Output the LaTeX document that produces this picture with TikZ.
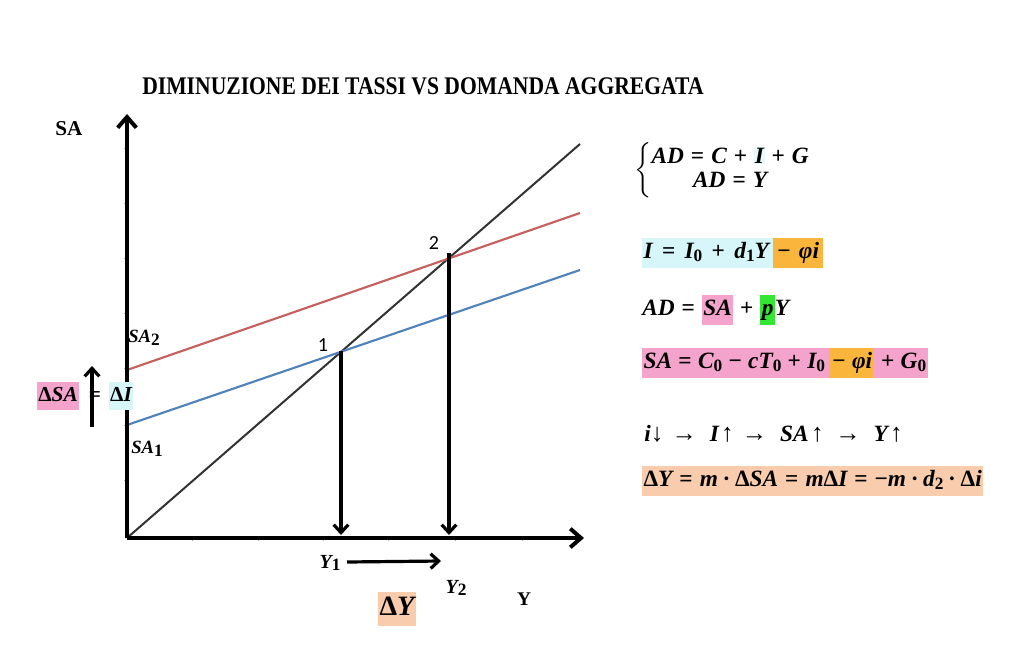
\documentclass[tikz,border=0pt]{standalone}
\usepackage{fontspec}
\usepackage{amsmath}
\usepackage{graphicx}
\setmainfont{Liberation Serif}
\newfontfamily\numfont{Carlito}
\usetikzlibrary{arrows.meta}
\definecolor{hlcyan}{RGB}{214,246,250}
\definecolor{hlorange}{RGB}{250,182,60}
\definecolor{hlpink}{RGB}{244,164,204}
\definecolor{hlgreen}{RGB}{50,230,50}
\definecolor{hlpeach}{RGB}{248,204,172}
\definecolor{redline}{RGB}{200,95,95}
\definecolor{blueline}{RGB}{80,130,190}
\definecolor{diagline}{RGB}{50,50,50}
\newcommand{\hl}[2]{{\setlength{\fboxsep}{1pt}\colorbox{#1}{\strut #2}}}
\newcommand{\lo}[1]{\raisebox{-0.3ex}{\upshape\fontsize{13}{13}\selectfont #1}}
\newcommand{\rel}[2][0.3em]{\hspace{#1}{\upshape #2}\hspace{#1}}
\newcommand{\dt}{\hspace{0.2em}{\upshape ·}\hspace{0.2em}}
\newcommand{\Dl}{{\upshape Δ}}
\newcommand{\arr}[1]{{\upshape\mdseries\fontsize{19}{20}\selectfont #1}}
\tikzset{
  axis/.style={line width=3pt,-{Straight Barb[length=8pt,width=14pt]}},
  droparrow/.style={line width=2.4pt,-{Straight Barb[length=6pt,width=11pt]}},
  tick/.style={gray!60,line width=0.6pt},
  eq/.style={font=\fontsize{17.5}{20}\selectfont\bfseries\itshape,inner sep=0pt,anchor=west},
  lab/.style={font=\fontsize{16}{19}\selectfont\bfseries\itshape,inner sep=0pt},
  slab/.style={font=\fontsize{14}{17}\selectfont\bfseries\itshape,inner sep=0pt},
  num/.style={font=\numfont\fontsize{15}{18}\selectfont,inner sep=0pt},
}
\begin{document}
\begin{tikzpicture}[x=0.75pt,y=-0.75pt]
\useasboundingbox (0,0) rectangle (1024,646);
% title
\node[inner sep=0pt] (title) at (423,86) {\resizebox{421pt}{12.6pt}{\bfseries DIMINUZIONE DEI TASSI VS DOMANDA AGGREGATA}};
% axes coordinates
\coordinate (O) at (127,538);
\coordinate (ytop) at (127,114);
\coordinate (xend) at (584,538);
% ticks
\foreach \yy in {148,203,258,313,368,425,480} \draw[tick] (124,\yy) -- (127,\yy);
\foreach \xx in {192,258,323,388,455,522} \draw[tick] (\xx,538) -- (\xx,541);
% lines
\coordinate (D) at (580,144);
\coordinate (R0) at (127,370);
\coordinate (R1) at (580,213);
\coordinate (B0) at (127,425);
\coordinate (B1) at (580,270);
\draw[diagline,line width=1.5pt] (O) -- (D);
\draw[redline,line width=1.6pt] (R0) -- (R1);
\draw[blueline,line width=1.6pt] (B0) -- (B1);
\draw[axis] (O) -- (ytop);
\draw[axis] (O) -- (xend);
% equilibrium points
\coordinate (P1) at (341,351);
\coordinate (P2) at (449,253);
\coordinate (F1) at (341,535);
\coordinate (F2) at (449,535);
\draw[droparrow] (P1) -- (F1);
\draw[droparrow] (P2) -- (F2);
\node[num] (n1) at (323,345) {1};
\node[num] (n2) at (434,243) {2};
% axis labels
\node[inner sep=0pt] (sa) at (69,129) {\resizebox{!}{10.5pt}{\bfseries SA}};
\node[inner sep=0pt] (yl) at (524,599) {\resizebox{!}{9.5pt}{\bfseries Y}};
\node[slab] (sa2) at (144,338) {SA\lo{2}};
\node[slab] (sa1) at (147,449) {SA\lo{1}};
% delta SA = delta I
\node[lab] (dsa) at (58,396) {\hl{hlpink}{\Dl SA}};
\coordinate (arS) at (92,427);
\coordinate (arE) at (92,366);
\node[lab] (eqs) at (95,397) {\upshape =};
\draw[droparrow] (arS) -- (arE);
\node[lab] (di) at (121,396) {\hl{hlcyan}{\Dl I}};
% Y1 Y2
\node[slab,font=\fontsize{15}{18}\selectfont\bfseries\itshape] (y1) at (330,563) {Y\lo{1}};
\node[slab,font=\fontsize{15}{18}\selectfont\bfseries\itshape] (y2) at (456,588) {Y\lo{2}};
\coordinate (ys) at (347,562);
\coordinate (ye) at (441,561);
\draw[droparrow] (ys) -- (ye);
\node[lab,font=\fontsize{21}{24}\selectfont\bfseries\itshape] (dy) at (397,609) {\hl{hlpeach}{\Dl Y}};
% equations
\node[eq] (e1) at (634,170) {$\left\{\begin{array}{@{}c@{}}\text{AD\rel{=}C\rel{+}{\setlength{\fboxsep}{0.5pt}\colorbox{hlcyan!60}{I}}\rel{+}G}\\[-2pt] \text{AD\rel{=}Y}\end{array}\right.$};
\node[eq] (e2) at (642,253) {\hl{hlcyan}{I\rel[0.4em]{=}I\lo{0}\rel[0.4em]{+}d\lo{1}Y\hspace{0.1em}}\hl{hlorange}{\hspace{0.15em}{\upshape −}\hspace{0.35em}φi\hspace{0.1em}}};
\node[eq] (e3) at (642,310) {AD\rel{=}\hl{hlpink}{SA}\rel{+}\hl{hlgreen}{p}Y};
\node[eq] (e4) at (642,363) {\hl{hlpink}{SA\rel[0.27em]{=}C\lo{0}\rel[0.27em]{−}cT\lo{0}\rel[0.27em]{+}I\lo{0}\hspace{0.1em}}\hl{hlorange}{\hspace{0.1em}{\upshape −}\hspace{0.27em}φi}\hl{hlpink}{\rel[0.27em]{+}G\lo{0}}};
\node[eq] (e5) at (644,434) {i\arr{↓}\hspace{0.35em}\arr{→}\hspace{0.55em}I\hspace{0.1em}\arr{↑}\hspace{0.35em}\arr{→}\hspace{0.55em}SA\hspace{0.1em}\arr{↑}\hspace{0.5em}\arr{→}\hspace{0.55em}Y\hspace{0.1em}\arr{↑}};
\node[eq] (e6) at (642,481) {\hl{hlpeach}{\Dl Y\rel{=}m\dt\Dl SA\rel{=}m\Dl I\rel{=}{\upshape −}m\dt d\lo{2}\dt\Dl i}};
\end{tikzpicture}
\end{document}
